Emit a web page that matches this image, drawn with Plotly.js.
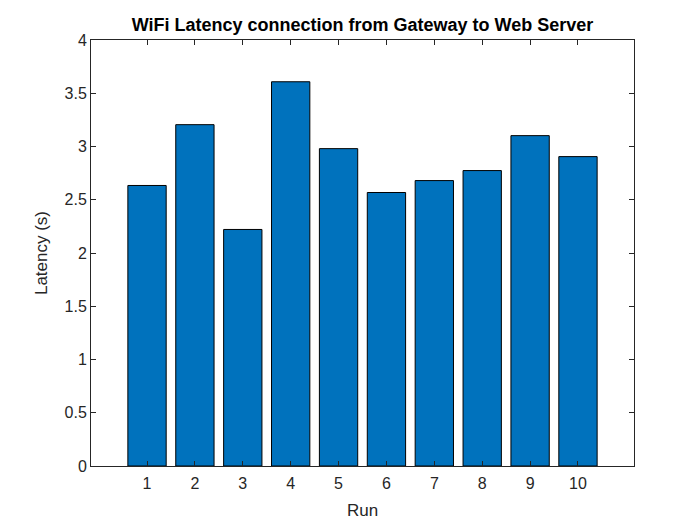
<!DOCTYPE html>
<html><head><meta charset="utf-8">
<script src="https://cdn.plot.ly/plotly-3.0.1.min.js"></script>
<style>body{margin:0;background:#fff}#chart{width:700px;height:525px}</style>
</head><body><div id="chart"></div>
<script>
const runs = [1,2,3,4,5,6,7,8,9,10];
const latency = [2.634, 3.205, 2.221, 3.608, 2.980, 2.568, 2.680, 2.774, 3.102, 2.905];
const yTicks = [0,0.5,1,1.5,2,2.5,3,3.5,4];
const yTickText = ['0','0.5','1','1.5','2','2.5','3','3.5','4'];

const FONT = 'Liberation Sans, Arial, sans-serif';
const trace = {
  type: 'bar', x: runs, y: latency, width: 0.8,
  marker: {color: '#0072BD', line: {color: '#000', width: 1}},
  hoverinfo: 'x+y'
};
const axisCommon = {
  showline: true, linecolor: '#262626', linewidth: 1, mirror: 'ticks',
  ticks: 'inside', ticklen: 5, tickcolor: '#262626', showgrid: false, zeroline: false,
  tickfont: {family: FONT, size: 16, color: '#262626'}
};
const layout = {
  width: 700, height: 525,
  margin: {l: 91, r: 66, t: 40, b: 59},
  paper_bgcolor: '#fff', plot_bgcolor: '#fff',
  showlegend: false,
  title: {text: '<b>WiFi Latency connection from Gateway to Web Server</b>',
    font: {family: FONT, size: 18, color: '#000'},
    x: 0.5, xref: 'paper', y: 1 - 24.5/525, yref: 'container', yanchor: 'middle'},
  xaxis: Object.assign({}, axisCommon, {
    range: [-0.17, 11.17], tickvals: runs, ticktext: runs.map(String),
    ticklabelstandoff: 3,
    title: {text: 'Run', standoff: 12, font: {family: FONT, size: 17, color: '#262626'}}
  }),
  yaxis: Object.assign({}, axisCommon, {
    range: [0, 4], tickvals: yTicks, ticktext: yTickText,
    title: {text: 'Latency (s)', standoff: 12, font: {family: FONT, size: 17, color: '#262626'}}
  })
};
Plotly.newPlot('chart', [trace], layout, {displayModeBar: false, staticPlot: true});
</script></body></html>
